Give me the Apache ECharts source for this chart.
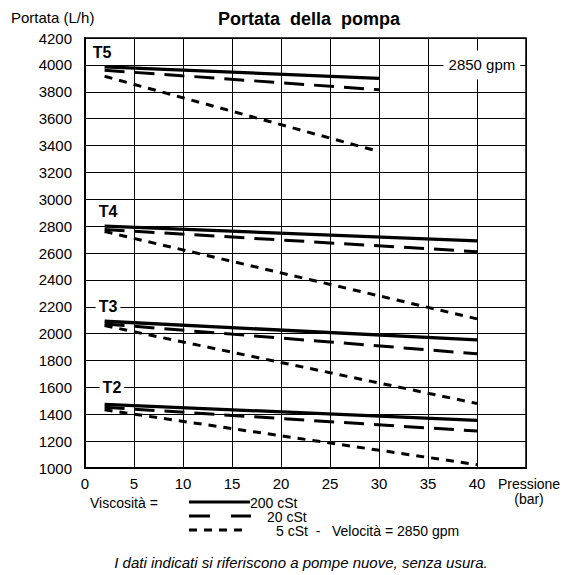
<!DOCTYPE html>
<html>
<head>
<meta charset="utf-8">
<script src="https://cdn.jsdelivr.net/npm/echarts@6/dist/echarts.min.js"></script>
<style>
html,body{margin:0;padding:0;background:#fff;}
#c{width:567px;height:575px;}
</style>
</head>
<body>
<div id="c"></div>
<script>
// ---- data ----
const xTicks = [0, 5, 10, 15, 20, 25, 30, 35, 40];
const yTicks = [1000, 1200, 1400, 1600, 1800, 2000, 2200, 2400, 2600, 2800, 3000, 3200, 3400, 3600, 3800, 4000, 4200];
const pressT5 = [2, 30];
const pressOther = [2, 40];
const pumps = ['T5', 'T4', 'T3', 'T2'];
const viscosities = ['200 cSt', '20 cSt', '5 cSt'];
const t5_200 = [3985, 3900];
const t5_20  = [3960, 3815];
const t5_5   = [3915, 3355];
const t4_200 = [2800, 2690];
const t4_20  = [2775, 2610];
const t4_5   = [2760, 2110];
const t3_200 = [2092, 1953];
const t3_20  = [2072, 1850];
const t3_5   = [2060, 1480];
const t2_200 = [1474, 1355];
const t2_20  = [1452, 1275];
const t2_5   = [1433, 1025];
const speedLabel = '2850 gpm';

const FONT = 'Liberation Sans, Arial, Helvetica, sans-serif';
const FS = 15;
const LFS = 14;
const styles = {
  '200 cSt': {type: 'solid', width: 3.3},
  '20 cSt':  {type: [20, 10], width: 3},
  '5 cSt':   {type: [8, 7], width: 3}
};
const seriesDefs = [
  ['T5', '200 cSt', pressT5, t5_200], ['T5', '20 cSt', pressT5, t5_20], ['T5', '5 cSt', pressT5, t5_5],
  ['T4', '200 cSt', pressOther, t4_200], ['T4', '20 cSt', pressOther, t4_20], ['T4', '5 cSt', pressOther, t4_5],
  ['T3', '200 cSt', pressOther, t3_200], ['T3', '20 cSt', pressOther, t3_20], ['T3', '5 cSt', pressOther, t3_5],
  ['T2', '200 cSt', pressOther, t2_200], ['T2', '20 cSt', pressOther, t2_20], ['T2', '5 cSt', pressOther, t2_5]
];
const series = seriesDefs.map(function (d) {
  const st = styles[d[1]];
  return {
    name: d[0] + ' ' + d[1],
    type: 'line',
    data: d[2].map(function (x, i) { return [x, d[3][i]]; }),
    showSymbol: false,
    symbol: 'none',
    animation: false,
    z: 3,
    lineStyle: {color: '#000', width: st.width, type: st.type, cap: 'butt'}
  };
});
const pumpLabelCoords = {T5: [1.75, 4090], T4: [2.35, 2910], T3: [2.35, 2200], T2: [2.75, 1600]};
const tagLabel = {
  show: true, position: 'inside', color: '#000', fontFamily: FONT, fontWeight: 'bold', fontSize: 16,
  backgroundColor: '#fff', padding: [1, 3]
};
series.push({
  type: 'line', data: [], z: 4, animation: false,
  markPoint: {
    symbol: 'rect', symbolSize: 0, animation: false,
    data: pumps.map(function (p) {
      return {coord: pumpLabelCoords[p], value: p, label: Object.assign({}, tagLabel, {formatter: p})};
    }).concat([{
      coord: [40.5, 4000], value: speedLabel,
      label: {show: true, position: 'inside', formatter: speedLabel, color: '#000', fontFamily: FONT,
        fontSize: FS, backgroundColor: '#fff', padding: [7, 5]}
    }])
  }
});

const chart = echarts.init(document.getElementById('c'), null, {renderer: 'svg'});
chart.setOption({
  backgroundColor: '#fff',
  animation: false,
  title: {
    text: 'Portata  della  pompa', left: 304, top: 5, textAlign: 'center',
    textStyle: {fontFamily: FONT, fontWeight: 'bold', fontSize: 18, color: '#000'}
  },
  grid: {left: 85, right: 41, top: 38, bottom: 107, show: true, borderColor: '#000', borderWidth: 1.5, backgroundColor: 'transparent'},
  xAxis: {
    type: 'value', min: 0, max: 45, interval: 5,
    axisLine: {show: true, onZero: false, lineStyle: {color: '#000', width: 2}},
    axisTick: {show: false},
    splitLine: {show: true, lineStyle: {color: '#000', width: 1}},
    axisLabel: {
      color: '#000', fontFamily: FONT, fontSize: FS, margin: 8, showMaxLabel: true, showMinLabel: true,
      formatter: function (v) { return xTicks.indexOf(v) >= 0 ? String(v) : (v === 45 ? '{p|Pressione}\n{p|(bar)}' : ''); },
      rich: {p: {fontFamily: FONT, fontSize: LFS, lineHeight: 15, color: '#000', padding: [0, 0, 0, 6]}}
    }
  },
  yAxis: {
    type: 'value', min: 1000, max: 4200, interval: 200,
    axisLine: {show: true, onZero: false, lineStyle: {color: '#000', width: 2}},
    axisTick: {show: false},
    splitLine: {show: true, lineStyle: {color: '#000', width: 1}},
    axisLabel: {
      color: '#000', fontFamily: FONT, fontSize: FS, margin: 13, showMaxLabel: true,
      formatter: function (v) { return yTicks.indexOf(v) >= 0 ? String(v) : ''; }
    }
  },
  graphic: [
    {type: 'text', left: 11, top: 10, style: {text: 'Portata (L/h)', font: FS + 'px ' + FONT, fill: '#000'}},
    {type: 'text', x: 90, y: 503, style: {text: 'Viscosità =', font: LFS + 'px ' + FONT, fill: '#000', textVerticalAlign: 'middle'}},
    {type: 'line', shape: {x1: 189, y1: 502, x2: 250, y2: 502}, style: {stroke: '#000', lineWidth: 3}},
    {type: 'text', x: 250, y: 503, style: {text: '200 cSt', font: LFS + 'px ' + FONT, fill: '#000', textVerticalAlign: 'middle'}},
    {type: 'line', shape: {x1: 189, y1: 516, x2: 251, y2: 516}, style: {stroke: '#000', lineWidth: 3, lineDash: [21, 21]}},
    {type: 'text', x: 267, y: 517, style: {text: '20 cSt', font: LFS + 'px ' + FONT, fill: '#000', textVerticalAlign: 'middle'}},
    {type: 'line', shape: {x1: 189, y1: 530, x2: 242, y2: 530}, style: {stroke: '#000', lineWidth: 3, lineDash: [8, 7]}},
    {type: 'text', x: 276, y: 531, style: {text: '5 cSt  -   Velocità = 2850 gpm', font: LFS + 'px ' + FONT, fill: '#000', textVerticalAlign: 'middle'}},
    {type: 'text', x: 301, y: 562, style: {text: 'I dati indicati si riferiscono a pompe nuove, senza usura.', font: 'italic ' + FS + 'px ' + FONT, fill: '#000', textAlign: 'center', textVerticalAlign: 'middle'}}
  ],
  series: series
});
</script>
</body>
</html>
